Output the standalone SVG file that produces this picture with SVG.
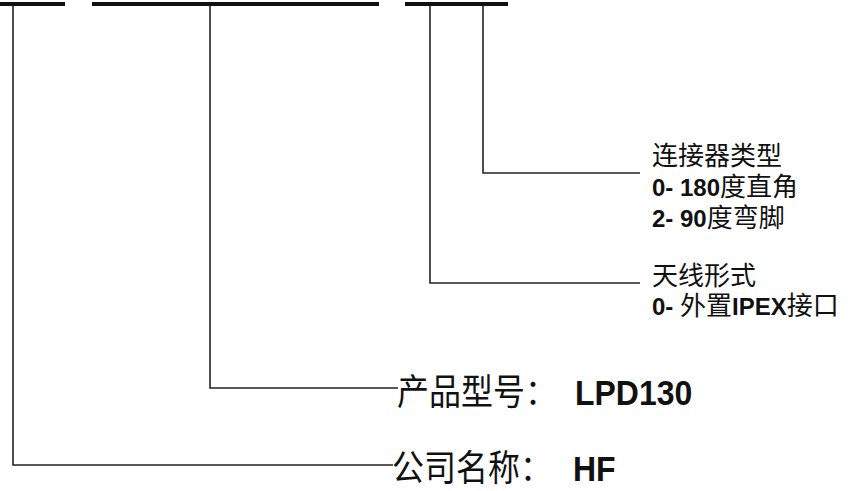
<svg xmlns="http://www.w3.org/2000/svg" width="862" height="491" viewBox="0 0 862 491">
<style>
.bar{stroke:#111;stroke-width:4;fill:none}
.ln{stroke:#222;stroke-width:1.6;fill:none}
text{font-family:"Liberation Sans","Noto Sans CJK SC",sans-serif;fill:#111}
.big{font-size:32px}
.sm{font-size:26px}
.b{font-weight:bold}
.sb{font-weight:bold;font-size:24px}
</style>
<rect width="862" height="491" fill="#fff"/>
<g id="bars">
<line class="bar" x1="0" y1="4" x2="65" y2="4"/>
<line class="bar" x1="92" y1="4" x2="379" y2="4"/>
<line class="bar" x1="405" y1="4" x2="508" y2="4"/>
</g>
<g id="connectors">
<polyline class="ln" points="13,6 13,465 393,465"/>
<polyline class="ln" points="210,6 210,388 398,388"/>
<polyline class="ln" points="430,6 430,283 640,283"/>
<polyline class="ln" points="483,6 483,173 640,173"/>
</g>
<g id="company" transform="translate(392,481) scale(1,1.12)">
<text class="big" x="0" y="0">公司名称：<tspan class="b" x="181">HF</tspan></text>
</g>
<g id="model" transform="translate(397,405) scale(1,1.12)">
<text class="big" x="0" y="0">产品型号：<tspan class="b" x="178">LPD130</tspan></text>
</g>
<g id="antenna">
<text class="sm" x="652" y="285">天线形式</text>
<text class="sm" x="652" y="315"><tspan class="sb">0- </tspan>外置<tspan class="sb">IPEX</tspan>接口</text>
</g>
<g id="connector">
<text class="sm" x="652" y="165">连接器类型</text>
<text class="sm" x="652" y="196"><tspan class="sb">0- 180</tspan>度直角</text>
<text class="sm" x="652" y="227"><tspan class="sb">2- 90</tspan>度弯脚</text>
</g>
</svg>
